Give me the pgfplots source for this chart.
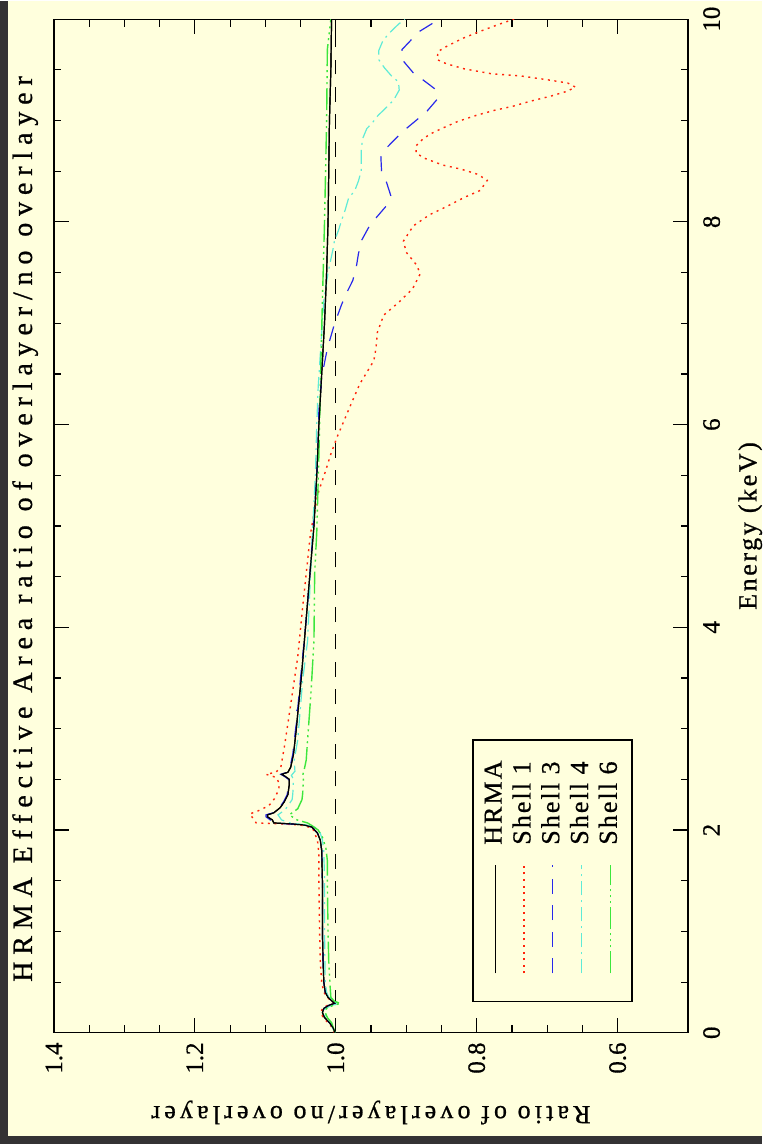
\documentclass[border=0pt]{standalone}
\usepackage{fontspec}
\setmainfont{Liberation Serif}
\newfontfamily\lsA[LetterSpace=24.5, FakeBold=0.8]{Liberation Serif}
\newfontfamily\lsB[LetterSpace=16, FakeBold=0.8]{Liberation Serif}
\newfontfamily\lsD[LetterSpace=10, FakeBold=0.8]{Liberation Serif}
\newfontfamily\lsC[LetterSpace=8, FakeBold=0.6]{Liberation Serif}
\newfontfamily\lsT[FakeBold=0.6]{Liberation Serif}
\usepackage{pgfplots}
\pgfplotsset{compat=1.18}
\usepackage{pgfplotstable}
\definecolor{bgc}{RGB}{255,255,221}
\definecolor{darkb}{RGB}{52,50,52}
\definecolor{cred}{RGB}{255,35,10}
\definecolor{cblue}{RGB}{40,40,235}
\definecolor{ccyan}{RGB}{95,235,215}
\definecolor{cgreen}{RGB}{60,230,60}

\pgfplotstableread{
E R
0.00 1.001
0.05 1.004
0.10 1.009
0.15 1.016
0.20 1.019
0.24 1.017
0.27 1.010
0.29 1.002
0.31 1.005
0.35 1.011
0.40 1.015
0.50 1.017
0.70 1.018
1.00 1.019
1.50 1.019
1.80 1.020
1.90 1.022
1.97 1.026
2.00 1.030
2.03 1.034
2.05 1.045
2.06 1.062
2.07 1.088
2.10 1.090
2.13 1.097
2.15 1.097
2.17 1.088
2.22 1.079
2.28 1.073
2.35 1.068
2.45 1.066
2.50 1.066
2.53 1.072
2.55 1.077
2.57 1.068
2.62 1.064
2.75 1.060
3.00 1.056
3.15 1.054
3.50 1.049
4.00 1.043
4.50 1.037
5.00 1.031
5.50 1.027
6.00 1.024
6.50 1.020
7.00 1.016
7.50 1.013
8.00 1.011
8.50 1.010
9.00 1.009
9.50 1.007
10.0 1.006
}\hrma

\pgfplotstableread{
E R
0.00 1.002
0.05 1.005
0.10 1.011
0.15 1.018
0.20 1.021
0.24 1.019
0.27 1.012
0.29 1.004
0.31 1.006
0.35 1.012
0.40 1.017
0.50 1.020
0.70 1.022
1.00 1.023
1.50 1.024
1.77 1.024
1.90 1.026
2.02 1.033
2.05 1.050
2.06 1.075
2.07 1.113
2.12 1.118
2.16 1.122
2.18 1.113
2.24 1.095
2.31 1.087
2.40 1.081
2.46 1.080
2.52 1.085
2.55 1.099
2.57 1.085
2.62 1.078
2.82 1.073
3.05 1.068
3.38 1.061
3.71 1.054
4.20 1.047
4.53 1.042
4.92 1.036
5.12 1.031
5.35 1.024
5.51 1.016
5.71 1.007
5.88 0.998
6.06 0.987
6.24 0.976
6.40 0.966
6.55 0.953
6.63 0.946
6.75 0.943
6.91 0.941
7.08 0.932
7.21 0.910
7.34 0.891
7.49 0.880
7.58 0.886
7.70 0.900
7.81 0.904
7.96 0.890
8.07 0.867
8.15 0.843
8.24 0.818
8.31 0.795
8.41 0.785
8.47 0.799
8.52 0.822
8.56 0.848
8.63 0.875
8.68 0.886
8.75 0.886
8.82 0.876
8.87 0.865
8.92 0.850
8.99 0.827
9.05 0.801
9.10 0.775
9.14 0.749
9.19 0.724
9.24 0.695
9.29 0.671
9.33 0.660
9.37 0.671
9.40 0.698
9.44 0.738
9.46 0.778
9.51 0.818
9.56 0.843
9.60 0.856
9.68 0.855
9.73 0.843
9.81 0.820
9.88 0.795
9.95 0.768
10.0 0.747
}\shellone

\pgfplotstableread{
E R
0.00 1.001
0.05 1.004
0.10 1.009
0.15 1.016
0.20 1.019
0.24 1.017
0.27 1.010
0.29 1.002
0.31 1.005
0.35 1.011
0.40 1.015
0.50 1.017
0.70 1.018
1.00 1.019
1.50 1.019
1.80 1.020
1.90 1.022
1.97 1.026
2.00 1.030
2.03 1.034
2.05 1.046
2.06 1.065
2.07 1.090
2.10 1.093
2.13 1.099
2.15 1.099
2.17 1.089
2.22 1.080
2.28 1.074
2.35 1.069
2.45 1.067
2.50 1.067
2.53 1.073
2.55 1.078
2.57 1.069
2.62 1.065
2.75 1.061
3.00 1.057
3.10 1.055
3.15 1.057
3.20 1.054
3.50 1.050
4.00 1.043
4.50 1.037
5.00 1.032
5.50 1.027
5.80 1.025
6.14 1.024
6.47 1.020
6.75 1.012
6.99 1.002
7.18 0.992
7.28 0.986
7.42 0.976
7.55 0.971
7.68 0.968
7.81 0.964
7.95 0.953
8.03 0.944
8.16 0.928
8.26 0.922
8.39 0.928
8.49 0.935
8.64 0.936
8.73 0.928
8.85 0.911
8.92 0.900
9.03 0.881
9.08 0.872
9.21 0.856
9.31 0.859
9.41 0.878
9.47 0.890
9.61 0.907
9.70 0.906
9.81 0.891
9.88 0.881
9.97 0.860
10.0 0.855
}\shellthree

\pgfplotstableread{
E R
0.00 1.001
0.10 1.008
0.15 1.014
0.20 1.017
0.24 1.015
0.27 1.006
0.29 0.995
0.31 1.004
0.35 1.010
0.40 1.013
0.50 1.015
1.00 1.016
1.50 1.016
1.80 1.017
1.90 1.019
1.97 1.022
2.03 1.030
2.05 1.042
2.07 1.065
2.10 1.077
2.15 1.082
2.20 1.072
2.24 1.068
2.30 1.062
2.36 1.061
2.50 1.060
2.54 1.063
2.58 1.058
2.69 1.059
2.89 1.054
3.48 1.047
3.87 1.040
4.50 1.036
4.94 1.033
5.50 1.029
6.00 1.027
6.37 1.025
6.80 1.021
7.22 1.017
7.50 1.011
7.73 1.004
7.81 1.002
7.92 0.996
8.01 0.992
8.11 0.987
8.23 0.982
8.31 0.973
8.40 0.968
8.50 0.964
8.70 0.964
8.82 0.962
8.92 0.956
8.97 0.949
9.05 0.940
9.13 0.928
9.20 0.918
9.30 0.910
9.38 0.911
9.44 0.921
9.52 0.931
9.60 0.939
9.69 0.939
9.79 0.933
9.87 0.923
9.95 0.911
10.0 0.902
}\shellfour

\pgfplotstableread{
E R
0.00 1.001
0.10 1.006
0.15 1.012
0.20 1.015
0.24 1.013
0.27 1.004
0.29 0.993
0.31 1.002
0.35 1.007
0.45 1.008
0.70 1.010
1.00 1.011
1.50 1.012
1.70 1.012
1.82 1.014
1.93 1.019
2.00 1.025
2.04 1.033
2.07 1.040
2.10 1.055
2.15 1.066
2.21 1.054
2.30 1.048
2.36 1.047
2.50 1.046
2.54 1.047
2.59 1.045
2.69 1.042
2.89 1.040
3.38 1.035
3.87 1.031
4.53 1.030
4.94 1.027
5.70 1.024
6.66 1.021
7.22 1.019
8.00 1.016
9.00 1.013
9.70 1.012
10.0 1.007
}\shellsix

\begin{document}
\begin{tikzpicture}
\fill[darkb] (0pt,0pt) rectangle (381.5pt,572pt);
\fill[bgc] (4pt,4pt) rectangle (381.5pt,572pt);
\begin{scope}[shift={(344.3pt,55.65pt)}, rotate=90, transform shape]
\begin{axis}[
  at={(0pt,0pt)}, anchor=south west,
  scale only axis, width=507.2pt, height=317.3pt,
  xmin=0, xmax=10, ymin=0.5, ymax=1.4,
  xtick={0,2,4,6,8,10}, xticklabels={0,2,4,6,8,10},
  ytick={0.6,0.8,1.0,1.2,1.4}, yticklabels={0.6,0.8,1.0,1.2,1.4},
  minor x tick num=3, minor y tick num=3,
  tick align=inside,
  major tick length=7.5pt, minor tick length=3.75pt,
  axis line style={line width=0.6pt},
  every tick/.style={black, line width=0.6pt},
  /pgf/number format/assume math mode=true,
  ticklabel style={font=\lsT\fontsize{12.5}{12.5}\selectfont},
  xticklabel style={yshift=-4pt},
  yticklabel style={xshift=-1.3pt},
  every axis title shift=0pt,
  title={\lsA\fontsize{14}{14}\selectfont HRMA Effective Area ratio of overlayer/no overlayer},
  title style={at={(axis description cs:0.497,1.0347)}, anchor=base, inner sep=0pt},
  xlabel={\lsD\fontsize{13}{13}\selectfont Energy (keV)},
  xlabel style={at={(axis description cs:0.5,-0.1078)}, anchor=base, inner sep=0pt},
  ylabel={\lsB\fontsize{13}{13}\selectfont Ratio of overlayer/no overlayer},
  ylabel style={at={(axis description cs:-0.0724,0.5)}, rotate=0, anchor=base, inner sep=0pt},
  legend style={at={(axis cs:0.30,0.806)}, anchor=north west,
    draw=black, line width=0.8pt, fill=none,
    inner xsep=5.8pt, inner ysep=5.2pt,
    row sep=2.9pt, column sep=10pt,
    font=\lsC\fontsize{13}{13}\selectfont,
    nodes={inner sep=0pt, text height=9pt, text depth=2.5pt}},
  legend cell align=left,
  legend image code/.code={\path (0pt,0pt); \draw[#1] (8pt,0pt) -- (62pt,0pt);},
]
\addplot[black, line width=0.6pt, dash pattern=on 7.5pt off 6.2pt, forget plot] coordinates {(0,1) (10,1)};
\addplot[black, line width=0.6pt] table {\hrma};
\addlegendentry{\makebox[46.5pt][l]{HRMA}}
\addplot[cred, line width=0.7pt, dash pattern=on 1pt off 2.3pt] table {\shellone};
\addlegendentry{\makebox[46.5pt][l]{Shell 1}}
\addplot[cblue, line width=0.6pt, dash pattern=on 7.5pt off 5.8pt] table {\shellthree};
\addlegendentry{\makebox[46.5pt][l]{Shell 3}}
\addplot[ccyan, line width=0.6pt, dash pattern=on 7pt off 2.5pt on 1pt off 2.5pt] table {\shellfour};
\addlegendentry{\makebox[46.5pt][l]{Shell 4}}
\addplot[cgreen, line width=0.7pt, dash pattern=on 11pt off 2pt on 1pt off 2pt on 1pt off 2pt on 1pt off 2pt] table {\shellsix};
\addlegendentry{\makebox[46.5pt][l]{Shell 6}}
\addplot[black, line width=0.6pt, forget plot] table {\hrma};
\end{axis}
\end{scope}
\end{tikzpicture}
\end{document}
